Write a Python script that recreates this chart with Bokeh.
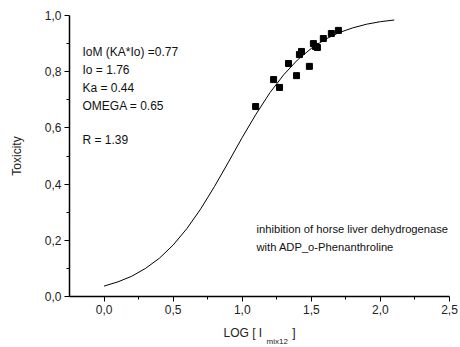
from bokeh.plotting import figure
from bokeh.models import FixedTicker, CustomJSTickFormatter, Label, Range1d, Title
from bokeh.embed import file_html
from bokeh.resources import INLINE

# measured points (log concentration vs toxicity)
pts_x = [1.097, 1.227, 1.270, 1.335, 1.393, 1.414, 1.429, 1.486, 1.515, 1.530, 1.544, 1.587, 1.645, 1.696]
pts_y = [0.676, 0.772, 0.744, 0.829, 0.786, 0.861, 0.872, 0.819, 0.900, 0.890, 0.886, 0.918, 0.936, 0.947]

# fitted curve
curve_x = [0.0, 0.1, 0.2, 0.3, 0.4, 0.5, 0.6, 0.7, 0.8, 0.9, 1.0, 1.1, 1.2, 1.3, 1.4, 1.5, 1.6, 1.7, 1.8, 1.9, 2.0, 2.1]
curve_y = [0.037, 0.052, 0.072, 0.100, 0.136, 0.183, 0.242, 0.312, 0.392, 0.478, 0.566, 0.649, 0.725, 0.789,
           0.842, 0.883, 0.915, 0.939, 0.956, 0.969, 0.978, 0.984]

x_ticks = [0.0, 0.5, 1.0, 1.5, 2.0, 2.5]
x_minor = [0.25, 0.75, 1.25, 1.75, 2.25]
y_ticks = [0.0, 0.2, 0.4, 0.6, 0.8, 1.0]
y_minor = [0.1, 0.3, 0.5, 0.7, 0.9]

fit_lines = ["IoM (KA*Io) =0.77", "Io = 1.76", "Ka = 0.44", "OMEGA = 0.65", "R = 1.39"]
note_lines = ["inhibition of horse liver dehydrogenase", "with ADP_o-Phenanthroline"]
x_title = "LOG [ I" + "\u00a0" * 9 + "]"
x_sub = "mix12"
y_title = "Toxicity"

FONT = "Liberation Sans"
TXT = "#111111"

p = figure(width=460, height=347, output_backend="svg", toolbar_location=None,
           x_range=Range1d(-0.25, 2.5), y_range=Range1d(0.0, 1.0),
           min_border_left=69, min_border_right=11, min_border_top=15, min_border_bottom=51)
p.outline_line_color = None
p.grid.visible = False
p.background_fill_color = "white"
p.border_fill_color = "white"

p.line(curve_x, curve_y, line_color="black", line_width=1)
p.scatter(pts_x, pts_y, marker="square", size=6, fill_color="black", line_color="black")

fmt = CustomJSTickFormatter(code="return tick.toFixed(1).replace('.', ',');")
for ax, maj, mnr in ((p.xaxis[0], x_ticks, x_minor), (p.yaxis[0], y_ticks, y_minor)):
    ax.ticker = FixedTicker(ticks=maj, minor_ticks=mnr)
    ax.formatter = fmt
    ax.axis_line_width = 1.5
    ax.axis_line_color = "black"
    ax.major_tick_line_color = "black"
    ax.minor_tick_line_color = "black"
    ax.major_tick_out = 5
    ax.major_tick_in = 0
    ax.minor_tick_out = 3
    ax.minor_tick_in = 0
    ax.major_label_text_font = FONT
    ax.major_label_text_font_size = "12px"
    ax.major_label_text_color = "#222222"
    ax.major_label_standoff = 3
    ax.axis_label_text_font = FONT
    ax.axis_label_text_font_size = "12px"
    ax.axis_label_text_font_style = "normal"
    ax.axis_label_text_color = "#222222"

p.yaxis.axis_label = y_title
p.yaxis.axis_label_standoff = 18
p.xaxis.axis_label = x_title
p.xaxis.axis_label_standoff = 9

sub = Title(text=x_sub, align="left", offset=197, standoff=-12, vertical_align="top",
            text_font=FONT, text_font_size="8px", text_font_style="normal", text_color="#222222")
p.add_layout(sub, "below")


def screen_label(sx, sy, text, size="12px"):
    p.add_layout(Label(x=sx, y=sy, x_units="screen", y_units="screen", text=text,
                       text_font=FONT, text_font_size=size, text_baseline="middle",
                       text_color=TXT))


for t, sy in zip(fit_lines, [245, 227, 209, 191, 157]):
    screen_label(13, sy, t)

for t, sy in zip(note_lines, [68, 50]):
    screen_label(187, sy, t, "11.2px")

open("out.html", "w").write(file_html(p, INLINE))
